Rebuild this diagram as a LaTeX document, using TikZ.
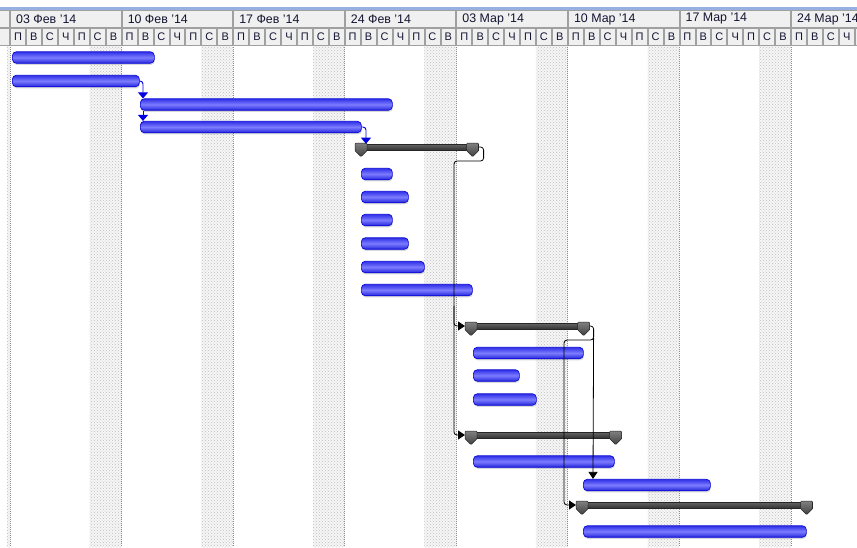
\documentclass[tikz,border=0pt]{standalone}
\usepackage{fontspec}
\setmainfont{Liberation Sans}
\usetikzlibrary{calc,arrows.meta,shadows,patterns}
\definecolor{hdrblue}{RGB}{150,176,226}
\definecolor{hdrfill}{RGB}{240,240,240}
\definecolor{hdrline}{RGB}{160,160,160}
\definecolor{hdrtext}{RGB}{20,20,50}
\definecolor{bartop}{RGB}{48,48,232}
\definecolor{barmid}{RGB}{124,124,255}
\definecolor{barbot}{RGB}{36,36,220}
\definecolor{barline}{RGB}{10,10,215}
\definecolor{conblue}{RGB}{0,0,225}
\definecolor{weekend}{RGB}{246,246,246}
\newcommand\smk[1]{\draw[mkstyle] #1 ++(-6,-0.5) -- ++(12,0) -- ++(0,7.5) -- ++(-6,6) -- ++(-6,-6) -- cycle;}
\begin{document}
\begin{tikzpicture}[x=1pt,y=-1pt,
  wk/.style={font=\fontsize{12.4}{13}\selectfont, text=hdrtext, inner sep=0pt, anchor=west},
  dy/.style={font=\fontsize{11}{12}\selectfont, text=hdrtext, inner sep=0pt},
  bar/.style={draw=barline, line width=0.7pt, rounded corners=4pt, top color=bartop, bottom color=barbot, middle color=barmid,
    minimum height=11.5pt, inner sep=0pt, anchor=west,
    drop shadow={shadow xshift=0.6pt, shadow yshift=-1.6pt, opacity=0.3}},
  sumbar/.style={draw=black!85, line width=0.6pt, top color=black!60, bottom color=black!80, middle color=black!70,
    minimum height=6pt, inner sep=0pt, anchor=west},
  mkstyle/.style={draw=black!85, line width=0.5pt, top color=black!50, bottom color=black!75, rounded corners=0.8pt},
  con/.style={draw=black, line width=0.8pt, rounded corners=3pt, -{Triangle[width=9pt,length=7pt]}},
  bcon/.style={draw=conblue, line width=0.9pt, rounded corners=3pt, -{Triangle[width=10pt,length=6pt]}},
]
\useasboundingbox (0,0) rectangle (857,547);
\clip (0,0) rectangle (857,547);
\fill[white] (0,0) rectangle (857,547);
% weekend shading
\fill[weekend] (7,45) rectangle (10,547);
\fill[pattern=crosshatch dots, pattern color=black!25] (7,45) rectangle (10,547);
\draw[black!45, line width=0.8pt, dash pattern=on 1pt off 1pt] (10.5,45) -- (10.5,547);
\foreach \w in {0,...,6}{
  \pgfmathsetmacro\xa{10+\w*111.57+5*15.94}
  \pgfmathsetmacro\xb{10+(\w+1)*111.57}
  \fill[weekend] (\xa,45) rectangle (\xb,547);
  \fill[pattern=crosshatch dots, pattern color=black!25] (\xa,45) rectangle (\xb,547);
  \draw[black!45, line width=0.8pt, dash pattern=on 1pt off 1pt] (\xb,45) -- (\xb,547);
}
% header
\fill[hdrblue] (0,7) rectangle (857,9.5);
\foreach \w in {-1,...,7}{
  \pgfmathsetmacro\xa{10+\w*111.57}
  \draw[hdrline, fill=hdrfill, line width=0.7pt] (\xa+0.5,10.5) rectangle (\xa+111.07,27);
  \foreach \d in {0,...,6}{
    \pgfmathsetmacro\xc{\xa+\d*15.94}
    \draw[hdrline, fill=hdrfill, line width=0.7pt] (\xc+0.5,28.5) rectangle (\xc+15.44,45);
  }
}
\foreach \lab [count=\i from 0] in {03 Фев '14,10 Фев '14,17 Фев '14,24 Фев '14,03 Мар '14,10 Мар '14,17 Мар '14,24 Мар '14}{
  \node[wk] (w\i) at (10+\i*111.57+6,19) {\lab};
}
\foreach \w in {0,...,6}{
  \foreach \l [count=\d from 0] in {П,В,С,Ч,П,С,В}{
    \node[dy] (d\w-\d) at (10+\w*111.57+\d*15.94+7.97,37) {\l};
  }
}
\foreach \l [count=\d from 0] in {П,В,С,Ч}{
  \node[dy] (d7-\d) at (10+7*111.57+\d*15.94+7.97,37) {\l};
}
% task bars
\node[bar, minimum width=142pt] (b1) at (12,57.5) {};
\node[bar, minimum width=127pt] (b2) at (12,81) {};
\node[bar, minimum width=252pt] (b3) at (140,104.5) {};
\node[bar, minimum width=221pt] (b4) at (140,127) {};
\node[bar, minimum width=31pt] (b6) at (361,174) {};
\node[bar, minimum width=47pt] (b7) at (361,197) {};
\node[bar, minimum width=31pt] (b8) at (361,220) {};
\node[bar, minimum width=47pt] (b9) at (361,243.5) {};
\node[bar, minimum width=63pt] (b10) at (361,267) {};
\node[bar, minimum width=111pt] (b11) at (361,290) {};
\node[bar, minimum width=110pt] (b13) at (473,353) {};
\node[bar, minimum width=46pt] (b14) at (473,375.5) {};
\node[bar, minimum width=63pt] (b15) at (473,399.5) {};
\node[bar, minimum width=141pt] (b17) at (473,461.5) {};
\node[bar, minimum width=127pt] (b18) at (583,485) {};
\node[bar, minimum width=223pt] (b20) at (583,531.5) {};
% summary bars
\node[sumbar, minimum width=123pt] (S1) at (355,147) {};
\node[sumbar, minimum width=124pt] (S2) at (465,326) {};
\node[sumbar, minimum width=156pt] (S3) at (465,435) {};
\node[sumbar, minimum width=236pt] (S4) at (576,505) {};
\foreach \s in {S1,S2,S3,S4}{
  \smk{($(\s.north west)+(6,0)$)}
  \smk{($(\s.north east)+(-6,0)$)}
}
% blue links
\draw[bcon] (b2.east) -| ($(b3.north west)+(3,0)$);
\draw[bcon, rounded corners=0pt] ($(b3.south west)+(3,0)$) -- ($(b4.north west)+(3,0)$);
\draw[bcon] (b4.east) -| ($(S1.north west)+(11,0)$);
% black links
\draw[con] (S1.east) -- ++(5,0) -- ++(0,14) -| ($(S2.west)+(-11,0)$) -- (S2.west);
\draw[con] ($(S2.west)+(-11,-20)$) |- (S3.west);
\draw[con] (S2.east) -- ++(4,0) -- ++(0,14) -| ($(S4.west)+(-12,0)$) -- (S4.west);
\draw[con, rounded corners=0pt] ($(S2.east)+(4,12)$) -- ($(b18.north west)+(10,0)$);
\end{tikzpicture}
\end{document}
